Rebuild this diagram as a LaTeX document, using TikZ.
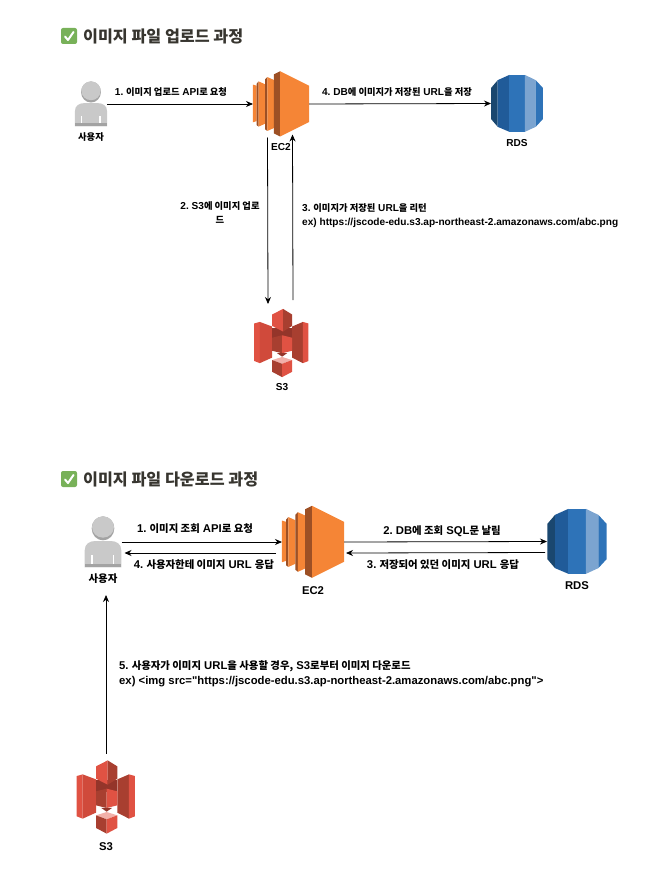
\documentclass[tikz,border=0pt]{standalone}
\usepackage{fontspec}
\setmainfont{Liberation Sans}[Ligatures=TeXOff]
\newfontfamily\krfont[Scale=0.92]{Noto Sans CJK KR}
\newcommand{\kr}[1]{{\krfont #1}}
\usetikzlibrary{arrows.meta}
\definecolor{ec2main}{HTML}{F58536}
\definecolor{ec2dark}{HTML}{9D5025}
\definecolor{rdsa}{HTML}{1A476F}
\definecolor{rdsb}{HTML}{205B99}
\definecolor{rdsc}{HTML}{2E73B8}
\definecolor{rdsd}{HTML}{7BA4D0}
\definecolor{s3main}{HTML}{E05243}
\definecolor{s3mid}{HTML}{D04A3B}
\definecolor{s3dark}{HTML}{A83F30}
\definecolor{s3shade}{HTML}{94352A}
\definecolor{s3top}{HTML}{F2B0A9}
\definecolor{usermain}{HTML}{C9C9C9}
\definecolor{userdark}{HTML}{A3A3A3}
\definecolor{titletext}{HTML}{37352F}
\definecolor{checkgreen}{HTML}{78B159}
\tikzset{
  iconbox/.style={inner sep=0pt, outer sep=0pt},
  lbl/.style={inner sep=0pt, align=left, font=\frenchspacing\bfseries\fontsize{10.1}{14.5}\selectfont},
  lblc/.style={lbl, align=center},
  lbd/.style={inner sep=0pt, align=left, font=\frenchspacing\bfseries\fontsize{11.3}{15}\selectfont},
  lbdc/.style={lbd, align=center},
  ttl/.style={inner sep=0pt, anchor=west, text=titletext, font=\krfont\bfseries\fontsize{17.6}{20}\selectfont},
  chk/.style={inner sep=0pt, minimum size=16, fill=checkgreen, rounded corners=2},
  arr/.style={-{Stealth[length=7,width=6]}, line width=.8pt, black},
  ec2icon/.pic={
    \fill[ec2main] (-97,-67) -- (-84,-63) -- (-84,59) -- (-97,63) -- cycle;
    \fill[ec2dark] (-84,-70) -- (-77,-78) -- (-77,78) -- (-84,73) -- cycle;
    \fill[ec2main] (-77,-78) -- (-55,-68) -- (-55,68) -- (-77,78) -- cycle;
    \fill[ec2dark] (-55,-85) -- (-47,-93) -- (-47,93) -- (-55,87) -- cycle;
    \fill[ec2main] (-47,-93) -- (-25,-83) -- (-25,83) -- (-47,93) -- cycle;
    \fill[ec2dark] (-25,-102) -- (-3,-113) -- (-3,112) -- (-25,101) -- cycle;
    \fill[ec2main] (-3,-113) -- (97,-63) -- (97,62) -- (-3,112) -- cycle;
  },
  rdsicon/.pic={
    \fill[rdsa] (-89,-53) -- (-66,-80) -- (-66,80) -- (-89,53) -- cycle;
    \fill[rdsb] (-66,-80) -- (-26,-98) -- (-26,97) -- (-66,80) -- cycle;
    \fill[rdsc] (-26,-98) -- (27,-98) -- (27,97) -- (-26,97) -- cycle;
    \fill[rdsd] (27,-98) -- (64,-80) -- (64,80) -- (27,97) -- cycle;
    \fill[rdsc] (64,-80) -- (89,-53) -- (89,53) -- (64,80) -- cycle;
  },
  s3icon/.pic={
    % wings
    \fill[s3main] (-88,-63) -- (-70,-68) -- (-70,65) -- (-88,58) -- cycle;
    \fill[s3mid] (-70,-68) -- (-30,-53) -- (-30,47) -- (-70,65) -- cycle;
    \fill[s3dark] (34,-53) -- (69,-68) -- (69,65) -- (34,47) -- cycle;
    \fill[s3main] (69,-68) -- (87,-63) -- (87,58) -- (69,65) -- cycle;
    % upper cube
    \fill[s3shade] (-30,-50) rectangle (34,-15);
    \fill[s3main] (-30,-92) -- (5,-110) -- (5,-37) -- (-30,-55) -- cycle;
    \fill[s3dark] (5,-110) -- (34,-92) -- (34,-55) -- (5,-37) -- cycle;
    % middle cube
    \fill[s3dark] (-30,-17) -- (2,-25) -- (2,33) -- (-30,25) -- cycle;
    \fill[s3main] (2,-25) -- (34,-17) -- (34,25) -- (2,33) -- cycle;
    \fill[s3shade] (-14,33) -- (2,33) -- (18,33) -- (2,44) -- cycle;
    % lower cube
    \fill[s3top] (-30,55) -- (2,45) -- (34,55) -- (2,67) -- cycle;
    \fill[s3dark] (-30,55) -- (2,67) -- (2,110) -- (-30,93) -- cycle;
    \fill[s3main] (2,67) -- (34,55) -- (34,93) -- (2,110) -- cycle;
  },
  usericon/.pic={
    \fill[userdark] (0,-41) ellipse (34 and 36);
    \fill[usermain] (0,-45) ellipse (33 and 32);
    \fill[usermain] (-55,76) -- (-55,25) .. controls (-55,5) and (-40,-3) .. (-22,-3)
      -- (22,-3) .. controls (40,-3) and (55,5) .. (55,25) -- (55,76) -- cycle;
    \fill[userdark] (-55,65) rectangle (55,76);
    \fill[white] (-35,40) rectangle (-30,65);
    \fill[white] (29,40) rectangle (34,65);
  }
}
\begin{document}
\begin{tikzpicture}[x=1pt,y=-1pt]
\useasboundingbox (0,0) rectangle (647,872);
% upload
\node[chk] (checkup) at (69,36) {};
\draw[white, line width=2pt, line cap=round, line join=round] (65,36.5) -- (68,40) -- (73.5,32);
\node[ttl] (titleup) at (83,36) {이미지 파일 업로드 과정};

\node[iconbox, minimum width=32, minimum height=46] (userup) at (91,104) {};
\node[iconbox, minimum width=56, minimum height=67] (ec2up) at (281,104) {};
\node[iconbox, minimum width=52, minimum height=59] (rdsup) at (517,103.5) {};
\node[iconbox, minimum width=56, minimum height=68] (s3up) at (281.5,343) {};
\pic[scale=.293] at (userup) {usericon};
\pic[scale=.29] at (ec2up) {ec2icon};
\pic[scale=.292] at (rdsup) {rdsicon};
\pic[scale=.31] at (s3up) {s3icon};

\node[lblc] (useruplbl) at (91,137) {\kr{사용자}};
\node[lblc] (ec2uplbl) at (281,147) {EC2};
\node[lblc] (rdsuplbl) at (517,143) {RDS};
\node[lblc] (s3uplbl) at (282,387) {S3};

\draw[arr] (userup.east) -- (ec2up.west);
\draw[arr] (ec2up.east) -- (rdsup.west);
\draw[arr] ([xshift=-13.5]ec2up.south) -- ([shift={(-13.5,-5)}]s3up.north);
\draw[arr] ([shift={(11.5,-9)}]s3up.north) -- ([shift={(11.5,-3)}]ec2up.south);

\node[lblc] (upa) at (171,92.5) {1. \kr{이미지 업로드} API\kr{로 요청}};
\node[lblc] (upb) at (220,212.5) {2. S3\kr{에 이미지 업로}\\\kr{드}};
\node[lbl, anchor=west] (upc) at (302,215.5) {3. \kr{이미지가 저장된} URL\kr{을 리턴}\\ex) https://jscode-edu.s3.ap-northeast-2.amazonaws.com/abc.png};
\node[lblc] (upd) at (397,92.5) {4. DB\kr{에 이미지가 저장된} URL\kr{을 저장}};

% download
\node[chk] (checkdown) at (69,479) {};
\draw[white, line width=2pt, line cap=round, line join=round] (65,479.5) -- (68,483) -- (73.5,475);
\node[ttl] (titledown) at (83,479) {이미지 파일 다운로드 과정};

\node[iconbox, minimum width=37, minimum height=51] (userdown) at (103,542) {};
\node[iconbox, minimum width=62, minimum height=75] (ec2down) at (313,542) {};
\node[iconbox, minimum width=60, minimum height=65] (rdsdown) at (577,541.5) {};
\node[iconbox, minimum width=62, minimum height=73] (s3down) at (106,797) {};
\pic[scale=.333] at (userdown) {usericon};
\pic[scale=.32] at (ec2down) {ec2icon};
\pic[scale=.333] at (rdsdown) {rdsicon};
\pic[scale=.333] at (s3down) {s3icon};

\node[lbdc] (userdownlbl) at (103,579) {\kr{사용자}};
\node[lbdc] (ec2downlbl) at (313,591) {EC2};
\node[lbdc] (rdsdownlbl) at (577,586) {RDS};
\node[lbdc] (s3downlbl) at (106,847) {S3};

\draw[arr] (userdown.east) -- (ec2down.west);
\draw[arr] ([shift={(-6,11)}]ec2down.west) -- ([shift={(3,11)}]userdown.east);
\draw[arr] (ec2down.east) -- (rdsdown.west);
\draw[arr] ([shift={(-2,11)}]rdsdown.west) -- ([shift={(2,11)}]ec2down.east);
\draw[arr] ([yshift=7]s3down.north) -- (106,595);

\node[lbdc] (downa) at (195,529) {1. \kr{이미지 조회} API\kr{로 요청}};
\node[lbdc] (downb) at (442,531) {2. DB\kr{에 조회} SQL\kr{문 날림}};
\node[lbdc] (downc) at (443,565) {3. \kr{저장되어 있던 이미지} URL \kr{응답}};
\node[lbdc] (downd) at (204,565) {4. \kr{사용자한테 이미지} URL \kr{응답}};
\node[lbd, anchor=west] (downe) at (119,673.5) {5. \kr{사용자가 이미지} URL\kr{을 사용할 경우,} S3\kr{로부터 이미지 다운로드}\\ex) <img src="https://jscode-edu.s3.ap-northeast-2.amazonaws.com/abc.png">};
\end{tikzpicture}
\end{document}
